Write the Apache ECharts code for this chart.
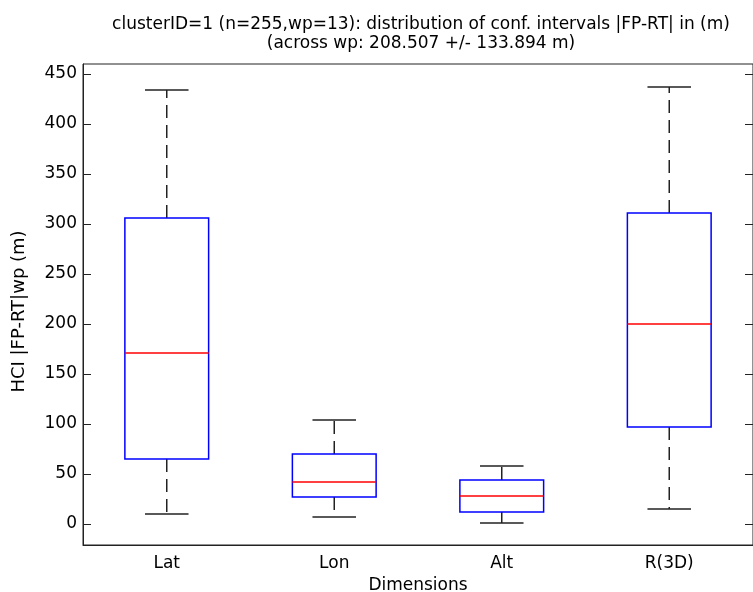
<!DOCTYPE html>
<html>
<head>
<meta charset="utf-8">
<script src="https://cdn.jsdelivr.net/npm/echarts@6/dist/echarts.min.js"></script>
<style>html,body{margin:0;padding:0;background:#fff}#c{width:753px;height:592px}</style>
</head>
<body>
<div id="c"></div>
<script>
const categories = ['Lat', 'Lon', 'Alt', 'R(3D)'];
const lowerWhisker = [10, 7, 1, 15];
const q1 = [65, 27, 12, 97];
const median = [171, 42, 28, 200];
const q3 = [306, 70, 44, 311];
const upperWhisker = [434, 104, 58, 437];
const yTicks = [0, 50, 100, 150, 200, 250, 300, 350, 400, 450];

const data = categories.map((c, i) => [i, lowerWhisker[i], q1[i], median[i], q3[i], upperWhisker[i]]);
const FONT = 'DejaVu Sans';

const chart = echarts.init(document.getElementById('c'), null, {renderer: 'canvas'});
chart.setOption({
  animation: false,
  backgroundColor: '#fff',
  title: {
    text: 'clusterID=1 (n=255,wp=13): distribution of conf. intervals |FP-RT| in (m)\n(across wp: 208.507 +/- 133.894 m)',
    left: 416, top: 10, textAlign: 'center',
    textStyle: {fontFamily: FONT, fontSize: 17, fontWeight: 'normal', color: '#000', lineHeight: 19}
  },
  grid: {left: 83, right: 0, top: 64, bottom: 47, show: true, borderColor: '#222', borderWidth: 1,
    backgroundColor: 'transparent', outerBoundsMode: 'none', containLabel: false},
  xAxis: {
    type: 'category', data: categories, boundaryGap: true,
    name: 'Dimensions', nameLocation: 'middle', nameGap: 28,
    nameTextStyle: {fontFamily: FONT, fontSize: 17, color: '#000'},
    axisLine: {onZero: false, lineStyle: {color: '#222', width: 1}},
    axisTick: {show: false},
    axisLabel: {fontFamily: FONT, fontSize: 17, color: '#000', margin: 10},
    splitLine: {show: false}
  },
  yAxis: [{
    type: 'value', min: -21, max: 460, position: 'left',
    name: 'HCI |FP-RT|wp (m)', nameLocation: 'middle', nameGap: 55,
    nameTextStyle: {fontFamily: FONT, fontSize: 18, color: '#000', padding: [0, 14, 0, 0]},
    axisLine: {show: true, lineStyle: {color: '#222', width: 1}},
    axisTick: {show: true, inside: true, length: 8, customValues: yTicks, lineStyle: {color: '#222'}},
    axisLabel: {fontFamily: FONT, fontSize: 17, color: '#000', margin: 6, customValues: yTicks},
    splitLine: {show: false}
  }, {
    type: 'value', min: -21, max: 460, position: 'right',
    axisLine: {show: true, lineStyle: {color: '#222', width: 1}},
    axisTick: {show: true, inside: true, length: 8, customValues: yTicks, lineStyle: {color: '#222'}},
    axisLabel: {show: false},
    splitLine: {show: false}
  }],
  series: [{
    type: 'custom',
    data: data,
    encode: {x: 0, y: [1, 2, 3, 4, 5]},
    renderItem: function (params, api) {
      const x = api.value(0);
      const pLow = api.coord([x, api.value(1)]);
      const pQ1 = api.coord([x, api.value(2)]);
      const pMed = api.coord([x, api.value(3)]);
      const pQ3 = api.coord([x, api.value(4)]);
      const pHigh = api.coord([x, api.value(5)]);
      const band = api.size([1, 0])[0];
      const bw = band * 0.5 / 2;
      const cw = band * 0.26 / 2;
      const cx = pMed[0];
      const dashStyle = {stroke: '#222', lineWidth: 1.5, lineDash: [13, 7], fill: null};
      const solid = {stroke: '#222', lineWidth: 1.5, fill: null};
      return {
        type: 'group',
        children: [
          {type: 'line', shape: {x1: cx, y1: pQ3[1], x2: cx, y2: pHigh[1]}, style: dashStyle},
          {type: 'line', shape: {x1: cx, y1: pQ1[1], x2: cx, y2: pLow[1]}, style: dashStyle},
          {type: 'line', shape: {x1: cx - cw, y1: pHigh[1], x2: cx + cw, y2: pHigh[1]}, style: solid},
          {type: 'line', shape: {x1: cx - cw, y1: pLow[1], x2: cx + cw, y2: pLow[1]}, style: solid},
          {type: 'rect', shape: {x: cx - bw, y: pQ3[1], width: bw * 2, height: pQ1[1] - pQ3[1]},
            style: {stroke: '#0000ff', lineWidth: 1.5, fill: 'rgba(0,0,0,0)'}},
          {type: 'line', shape: {x1: cx - bw, y1: pMed[1], x2: cx + bw, y2: pMed[1]},
            style: {stroke: '#ff0000', lineWidth: 1.5}}
        ]
      };
    }
  }]
});
</script>
</body>
</html>
